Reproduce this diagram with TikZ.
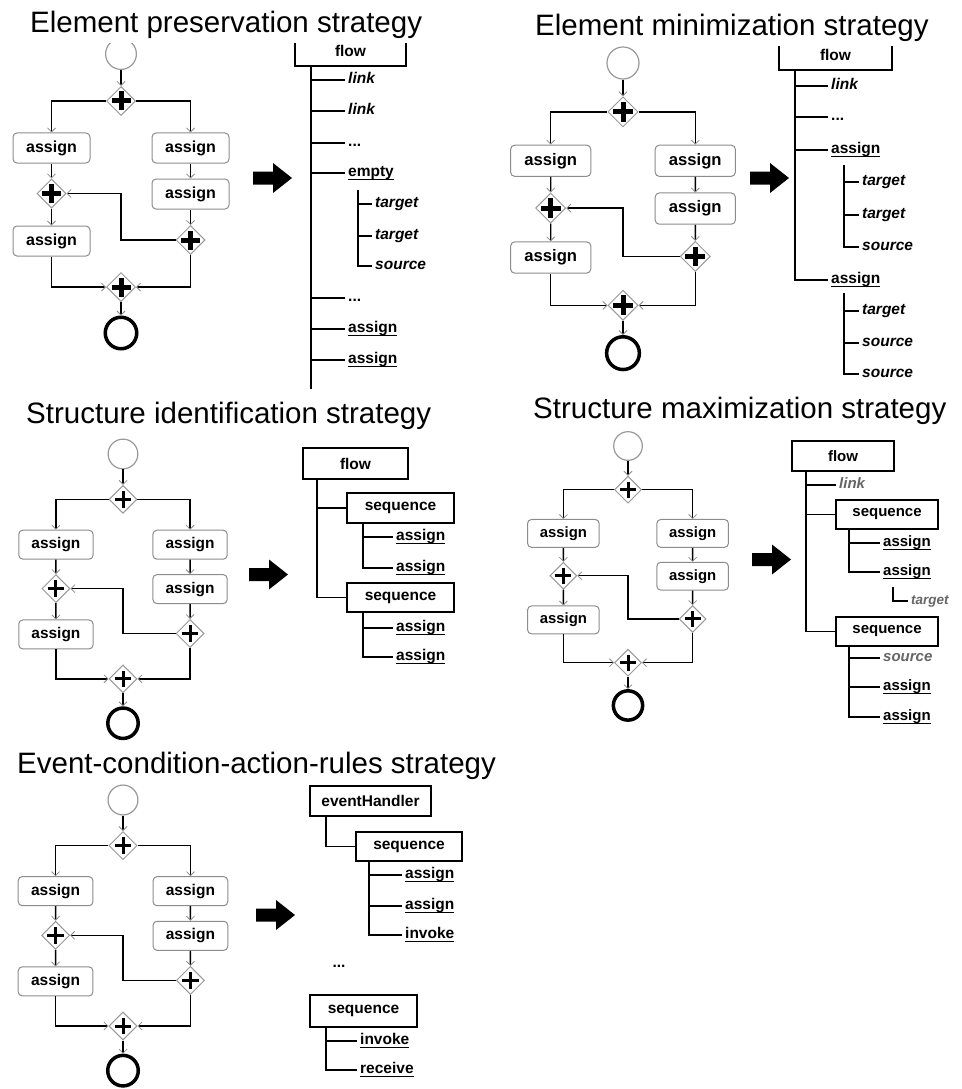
\documentclass[tikz,border=0pt]{standalone}
\usepackage{fontspec}
\setmainfont{Liberation Sans}
\usetikzlibrary{shapes.geometric, arrows.meta, calc}

% underlined tree label with a firm rule
\newcommand\ulab[1]{\setbox0=\hbox{#1}\rlap{\rule[-3.2pt]{\wd0}{1.3pt}}\box0}
\newcommand\tsz{\fontsize{15.5}{17}\selectfont\bfseries}
\newcommand\tszs{\fontsize{15}{17}\selectfont\bfseries}

\tikzset{
  flowline/.style={line width=1.4pt,
    -{Straight Barb[length=4pt,width=8pt,line width=0.8pt,color=black!45]}},
  gate/.style={diamond, draw=black!40, fill=white, line width=1pt,
    minimum width=29pt, minimum height=29pt, inner sep=0pt},
  task/.style={rectangle, rounded corners=4pt, draw=black!45, line width=1pt,
    minimum width=77pt, minimum height=30pt, inner sep=0pt,
    font=\fontsize{16}{18}\selectfont\bfseries},
  startev/.style={circle, draw=black!40, line width=1.2pt, minimum size=30.8pt, inner sep=0pt},
  endev/.style={circle, draw=black, line width=3.5pt, minimum size=31.5pt, inner sep=0pt},
  tbox/.style={rectangle, draw, line width=1.6pt, minimum height=30pt, inner sep=0pt, font=\tsz},
  tlbl/.style={anchor=west, inner sep=3pt, text height=11pt, text depth=3.5pt, font=\tsz},
  tlbls/.style={tlbl, font=\tszs},
  tline/.style={line width=1.6pt},
  ttl/.style={anchor=base west, inner sep=0pt, fill=white, text depth=10pt,
    font=\fontsize{29.5}{32}\selectfont},
}

% parallel process: #1 prefix, #2/#3 start event position, #4 scale,
% #5 thickness of the gateway cross, #6 half length of its arms
\newcommand\procflow[6]{%
  \begin{scope}[shift={(#2,#3)}, scale=#4, transform shape]
    \node[startev] (#1-s) at (0,0) {};
    \node[gate] (#1-g1) at (0,47) {};
    \node[task] (#1-a1) at (-69.5,94) {assign};
    \node[task] (#1-a2) at (69.5,94) {assign};
    \node[task] (#1-a3) at (69.5,140) {assign};
    \node[gate] (#1-g2) at (-69.5,139.5) {};
    \node[task] (#1-a4) at (-69.5,187) {assign};
    \node[gate] (#1-g3) at (69.5,186) {};
    \node[gate] (#1-g4) at (0,233) {};
    \node[endev] (#1-e) at (0,279) {};
    \coordinate (#1-lp) at (0,139.5);
    \foreach \g in {g1,g2,g3,g4}
      \draw[line width=#5] (#1-\g) +(-#6,0) -- +(#6,0) +(0,-#6) -- +(0,#6);
    \draw[flowline] (#1-s) -- (#1-g1);
    \draw[flowline] (#1-g1.west) -| (#1-a1.north);
    \draw[flowline] (#1-g1.east) -| (#1-a2.north);
    \draw[flowline] (#1-a1) -- (#1-g2);
    \draw[flowline] (#1-g2) -- (#1-a4);
    \draw[flowline] (#1-a2) -- (#1-a3);
    \draw[flowline] (#1-a3) -- (#1-g3);
    \draw[flowline] (#1-g3.west) -| (#1-lp) -- (#1-g2.east);
    \draw[flowline] (#1-a4.south) |- (#1-g4.west);
    \draw[flowline] (#1-g3.south) |- (#1-g4.east);
    \draw[flowline] (#1-g4) -- (#1-e);
  \end{scope}}

% block arrow pointing right, tail centre at (#2,#3)
\newcommand\bigarr[3]{%
  \coordinate (#1) at (#2,#3);
  \fill (#1) ++(0,-6.5) -- ++(20,0) -- ++(0,-8.5) -- ++(19,15) -- ++(-19,15)
    -- ++(0,-8.5) -- ++(-20,0) -- cycle;}

\begin{document}
\begin{tikzpicture}[x=1pt, y=-1pt]
\fill[white] (0,0) rectangle (961,1089);
\useasboundingbox (0,0) rectangle (961,1089);

% ---------- process models ----------
\procflow{p1}{121}{54}{1.0}{5pt}{9.5}
\procflow{p2}{623}{63}{1.04}{5pt}{9.5}
\procflow{p3}{123}{454}{0.965}{3pt}{8.5}
\procflow{p4}{628}{446}{0.93}{3pt}{8.5}
\procflow{p5}{123}{800}{0.97}{3pt}{8.5}

\bigarr{p1-arr}{253}{178}
\bigarr{p2-arr}{750}{178}
\bigarr{p3-arr}{249}{574.5}
\bigarr{p4-arr}{752}{559.5}
\bigarr{p5-arr}{256}{915}

% ---------- element preservation ----------
\node[tbox, minimum width=111pt] (p1-flow) at (350.5,51) {flow};
\coordinate (p1-t) at ($(p1-flow.south west)+(17,0)$);
\coordinate (p1-tend) at ($(p1-t)+(0,322)$);
\draw[tline] (p1-t) -- (p1-tend);
\node[tlbl] (p1-c1) at (345,80) {\itshape link};
\node[tlbl] (p1-c2) at (345,111) {\itshape link};
\node[tlbl] (p1-c3) at (345,143) {...};
\node[tlbl] (p1-c4) at (345,173) {\ulab{empty}};
\node[tlbl] (p1-c5) at (345,298) {...};
\node[tlbl] (p1-c6) at (345,329) {\ulab{assign}};
\node[tlbl] (p1-c7) at (345,360) {\ulab{assign}};
\foreach \c in {1,...,7} \draw[tline] (p1-t) |- (p1-c\c.west);
\coordinate (p1-e) at ($(p1-c4.west)+(13,17)$);
\node[tlbl] (p1-d1) at (372,204) {\itshape target};
\node[tlbl] (p1-d2) at (372,236) {\itshape target};
\node[tlbl] (p1-d3) at (372,266) {\itshape source};
\foreach \c in {1,2,3} \draw[tline] (p1-e) |- (p1-d\c.west);

% ---------- element minimization ----------
\node[tbox, minimum width=113pt] (p2-flow) at (835.5,55) {flow};
\coordinate (p2-t) at ($(p2-flow.south west)+(17,0)$);
\node[tlbl] (p2-c1) at (828,86) {\itshape link};
\node[tlbl] (p2-c2) at (828,117) {...};
\node[tlbl] (p2-c3) at (828,150) {\ulab{assign}};
\node[tlbl] (p2-c4) at (828,280) {\ulab{assign}};
\foreach \c in {1,...,4} \draw[tline] (p2-t) |- (p2-c\c.west);
\coordinate (p2-e1) at ($(p2-c3.west)+(16,15)$);
\node[tlbl] (p2-d1) at (859,182) {\itshape target};
\node[tlbl] (p2-d2) at (859,215) {\itshape target};
\node[tlbl] (p2-d3) at (859,247) {\itshape source};
\foreach \c in {1,2,3} \draw[tline] (p2-e1) |- (p2-d\c.west);
\coordinate (p2-e2) at ($(p2-c4.west)+(16,13)$);
\node[tlbl] (p2-f1) at (859,311) {\itshape target};
\node[tlbl] (p2-f2) at (859,343) {\itshape source};
\node[tlbl] (p2-f3) at (859,374) {\itshape source};
\foreach \c in {1,2,3} \draw[tline] (p2-e2) |- (p2-f\c.west);

% ---------- structure identification ----------
\node[tbox, minimum width=105pt, minimum height=31pt] (p3-flow) at (355.5,463.5) {flow};
\coordinate (p3-t) at ($(p3-flow.south west)+(15,0)$);
\node[tbox, minimum width=107pt] (p3-s1) at (400.5,508) {sequence};
\node[tbox, minimum width=107pt, minimum height=29pt] (p3-s2) at (400.5,597.5) {sequence};
\draw[tline] (p3-t) |- (p3-s1.west);
\draw[tline] (p3-t) |- (p3-s2.west);
\coordinate (p3-u1) at ($(p3-s1.south west)+(17,0)$);
\node[tlbl] (p3-a1) at (393,537) {\ulab{assign}};
\node[tlbl] (p3-a2) at (393,568) {\ulab{assign}};
\draw[tline] (p3-u1) |- (p3-a1.west);
\draw[tline] (p3-u1) |- (p3-a2.west);
\coordinate (p3-u2) at ($(p3-s2.south west)+(17,0)$);
\node[tlbl] (p3-b1) at (393,628) {\ulab{assign}};
\node[tlbl] (p3-b2) at (393,657) {\ulab{assign}};
\draw[tline] (p3-u2) |- (p3-b1.west);
\draw[tline] (p3-u2) |- (p3-b2.west);

% ---------- structure maximization ----------
\node[tbox, minimum width=102pt, font=\tszs] (p4-flow) at (843,456) {flow};
\coordinate (p4-t) at ($(p4-flow.south west)+(15,0)$);
\node[tlbls, text=black!60] (p4-l) at (836,485) {\itshape link};
\node[tbox, minimum width=102pt, minimum height=29pt, font=\tszs] (p4-s1) at (887,514.5) {sequence};
\node[tbox, minimum width=102pt, minimum height=29pt, font=\tszs] (p4-s2) at (887,631.5) {sequence};
\draw[tline] (p4-t) |- (p4-l.west);
\draw[tline] (p4-t) |- (p4-s1.west);
\draw[tline] (p4-t) |- (p4-s2.west);
\coordinate (p4-u1) at ($(p4-s1.south west)+(14,0)$);
\node[tlbls] (p4-a1) at (880,543) {\ulab{assign}};
\node[tlbls] (p4-a2) at (880,572) {\ulab{assign}};
\draw[tline] (p4-u1) |- (p4-a1.west);
\draw[tline] (p4-u1) |- (p4-a2.west);
\coordinate (p4-v) at ($(p4-a2.west)+(13,15)$);
\node[tlbl, text=black!60, font=\fontsize{13.5}{15}\selectfont\bfseries] (p4-tg) at (908,601) {\itshape target};
\draw[line width=1.4pt] (p4-v) |- (p4-tg.west);
\coordinate (p4-u2) at ($(p4-s2.south west)+(14,0)$);
\node[tlbls, text=black!60] (p4-b1) at (880,658) {\itshape source};
\node[tlbls] (p4-b2) at (880,687) {\ulab{assign}};
\node[tlbls] (p4-b3) at (880,717) {\ulab{assign}};
\foreach \c in {1,2,3} \draw[tline] (p4-u2) |- (p4-b\c.west);

% ---------- event-condition-action rules ----------
\node[tbox, minimum width=121pt] (p5-eh) at (370.5,801) {eventHandler};
\coordinate (p5-t) at ($(p5-eh.south west)+(17,0)$);
\node[tbox, minimum width=106pt, minimum height=29pt] (p5-s1) at (409,846.5) {sequence};
\draw[tline] (p5-t) |- (p5-s1.west);
\coordinate (p5-u1) at ($(p5-s1.south west)+(14,0)$);
\node[tlbl] (p5-a1) at (402,875) {\ulab{assign}};
\node[tlbl] (p5-a2) at (402,906) {\ulab{assign}};
\node[tlbl] (p5-a3) at (402,935) {\ulab{invoke}};
\foreach \c in {1,2,3} \draw[tline] (p5-u1) |- (p5-a\c.west);
\node[font=\tsz, inner sep=0pt] (p5-dots) at (339,966) {...};
\node[tbox, minimum width=107pt, minimum height=32pt] (p5-s2) at (363.5,1011) {sequence};
\coordinate (p5-u2) at ($(p5-s2.south west)+(17,0)$);
\node[tlbl] (p5-b1) at (357,1041) {\ulab{invoke}};
\node[tlbl] (p5-b2) at (357,1070) {\ulab{receive}};
\draw[tline] (p5-u2) |- (p5-b1.west);
\draw[tline] (p5-u2) |- (p5-b2.west);

% ---------- headings ----------
\node[ttl] (t1) at (30,33) {Element preservation strategy};
\node[ttl] (t2) at (535,36) {Element minimization strategy};
\node[ttl] (t3) at (26,423) {Structure identification strategy};
\node[ttl] (t4) at (533,418) {Structure maximization strategy};
\node[ttl] (t5) at (17,773) {Event-condition-action-rules strategy};
\end{tikzpicture}
\end{document}
